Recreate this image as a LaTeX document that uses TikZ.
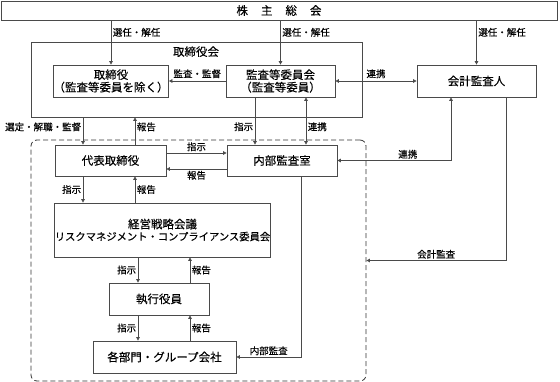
\documentclass[tikz,border=0pt]{standalone}
\usepackage{fontspec}
\setmainfont{Noto Sans CJK JP}[FakeBold=0.25]
\usetikzlibrary{arrows.meta}
\definecolor{linegray}{HTML}{4A4A4A}
\definecolor{dashgray}{HTML}{333333}
\tikzset{
  orgbox/.style={draw=linegray, line width=0.7pt, inner sep=0pt, align=center,
    font=\fontsize{11.5}{12.5}\selectfont},
  lbl/.style={font=\fontsize{9.5}{11}\selectfont, inner sep=1.5pt},
  flow/.style={draw=linegray, line width=0.7pt, -{Triangle[length=3.5pt,width=3.5pt]}},
  both/.style={draw=linegray, line width=0.7pt,
    {Triangle[length=3.5pt,width=3.5pt]}-{Triangle[length=3.5pt,width=3.5pt]}},
}

\begin{document}
\begin{tikzpicture}[x=1pt, y=-1pt]
  \useasboundingbox (0,0) rectangle (560,382);

  % ---------- Frames ----------
  \node[orgbox, minimum width=556pt, minimum height=19pt] (soukai) at (279,10.5)
    {株\hspace{13pt}主\hspace{13pt}総\hspace{13pt}会};
  \node[draw=linegray, line width=0.7pt, inner sep=0pt,
    minimum width=331pt, minimum height=75pt] (board) at (196.5,79.5) {};
  \node[orgbox, draw=none, anchor=north] (boardlbl) at (196,46) {取締役会};
  \node[draw=dashgray, line width=0.8pt, dash pattern=on 5pt off 3pt, rounded corners=6pt,
    inner sep=0pt, minimum width=335pt, minimum height=241pt] (group) at (198.5,260.5) {};

  % ---------- Boxes ----------
  \node[orgbox, minimum width=112pt, minimum height=32pt] (tori) at (111,81)
    {取締役\\（監査等委員を除く）};
  \node[orgbox, minimum width=109pt, minimum height=32pt] (kansa) at (280.5,81)
    {監査等委員会\\（監査等委員）};
  \node[orgbox, minimum width=119pt, minimum height=32pt] (kaikei) at (476.5,81) {会計監査人};
  \node[orgbox, minimum width=111pt, minimum height=31pt] (daihyo) at (110.5,160.5) {代表取締役};
  \node[orgbox, minimum width=110pt, minimum height=31pt] (naibu) at (282,160.5) {内部監査室};
  \node[orgbox, minimum width=215pt, minimum height=54pt, font=\fontsize{11.5}{12}\selectfont]
    (keiei) at (162.5,230)
    {経営戦略会議\\{\fontsize{10.3}{12}\selectfont リスクマネジメント・コンプライアンス委員会}};
  \node[orgbox, minimum width=100pt, minimum height=32pt] (shikkou) at (159,299) {執行役員};
  \node[orgbox, minimum width=143pt, minimum height=32pt] (kakubu) at (164.5,357) {各部門・グループ会社};

  % ---------- Shareholders ----------
  \draw[flow] (soukai.south -| tori.north) -- (tori.north)
    node[lbl, pos=0.27, anchor=west] (l1) {選任・解任};
  \draw[flow] (soukai.south -| kansa.north) -- (kansa.north)
    node[lbl, pos=0.27, anchor=west] (l2) {選任・解任};
  \draw[flow] (soukai.south -| kaikei.north) -- (kaikei.north)
    node[lbl, pos=0.27, anchor=west] (l3) {選任・解任};

  % ---------- Board ----------
  \draw[flow] (kansa.west) -- (tori.east) node[lbl, midway, above=1pt] (l4) {監査・監督};
  \draw[both] (kansa.east) -- (kaikei.west) node[lbl, midway, above=1pt] (l5) {連携};

  \coordinate (dL) at ([xshift=-27.5pt]daihyo.north);
  \coordinate (dR) at ([xshift=24.5pt]daihyo.north);
  \draw[flow] (dL |- board.south) -- (dL) node[lbl, pos=0.35, left] (l6) {選定・解職・監督};
  \draw[flow] (dR) -- (dR |- board.south) node[lbl, pos=0.65, right] (l7) {報告};

  \coordinate (nL) at ([xshift=-27pt]naibu.north);
  \coordinate (nR) at ([xshift=24pt]naibu.north);
  \draw[flow] (nL |- kansa.south) -- (nL) node[lbl, pos=0.62, left] (l8) {指示};
  \draw[both] (nR |- kansa.south) -- (nR) node[lbl, pos=0.62, right] (l9) {連携};

  % ---------- Audit lines ----------
  \coordinate (hA) at ([yshift=7.5pt]daihyo.east);
  \coordinate (hB) at ([yshift=-8.5pt]daihyo.east);
  \draw[flow] (hA) -- (hA -| naibu.west) node[lbl, midway, above] (l10) {指示};
  \draw[flow] (hB -| naibu.west) -- (hB) node[lbl, midway, below] (l11) {報告};

  \coordinate (kL) at ([xshift=-25.5pt]kaikei.south);
  \coordinate (kR) at ([xshift=29.5pt]kaikei.south);
  \draw[both] (kL) |- (naibu.east) node[lbl, pos=0.69, above] (l12) {連携};
  \draw[flow] (kR) |- (group.east) node[lbl, pos=0.75, above] (l13) {会計監査};

  \coordinate (nB) at ([xshift=19pt]naibu.south);
  \draw[flow] (nB) |- (kakubu.east) node[lbl, pos=0.75, above] (l14) {内部監査};

  % ---------- Execution ----------
  \coordinate (dLs) at ([xshift=-27.5pt]daihyo.south);
  \coordinate (dRs) at ([xshift=24.5pt]daihyo.south);
  \draw[flow] (dLs) -- (dLs |- keiei.north) node[lbl, midway, left] (l15) {指示};
  \draw[flow] (dRs |- keiei.north) -- (dRs) node[lbl, midway, right] (l16) {報告};

  \coordinate (sL) at ([xshift=-21pt]shikkou.north);
  \coordinate (sR) at ([xshift=31pt]shikkou.north);
  \draw[flow] (sL |- keiei.south) -- (sL) node[lbl, midway, left] (l17) {指示};
  \draw[flow] (sR) -- (sR |- keiei.south) node[lbl, midway, right] (l18) {報告};

  \coordinate (sLs) at ([xshift=-21pt]shikkou.south);
  \coordinate (sRs) at ([xshift=31pt]shikkou.south);
  \draw[flow] (sLs) -- (sLs |- kakubu.north) node[lbl, midway, left] (l19) {指示};
  \draw[flow] (sRs |- kakubu.north) -- (sRs) node[lbl, midway, right] (l20) {報告};
\end{tikzpicture}
\end{document}
